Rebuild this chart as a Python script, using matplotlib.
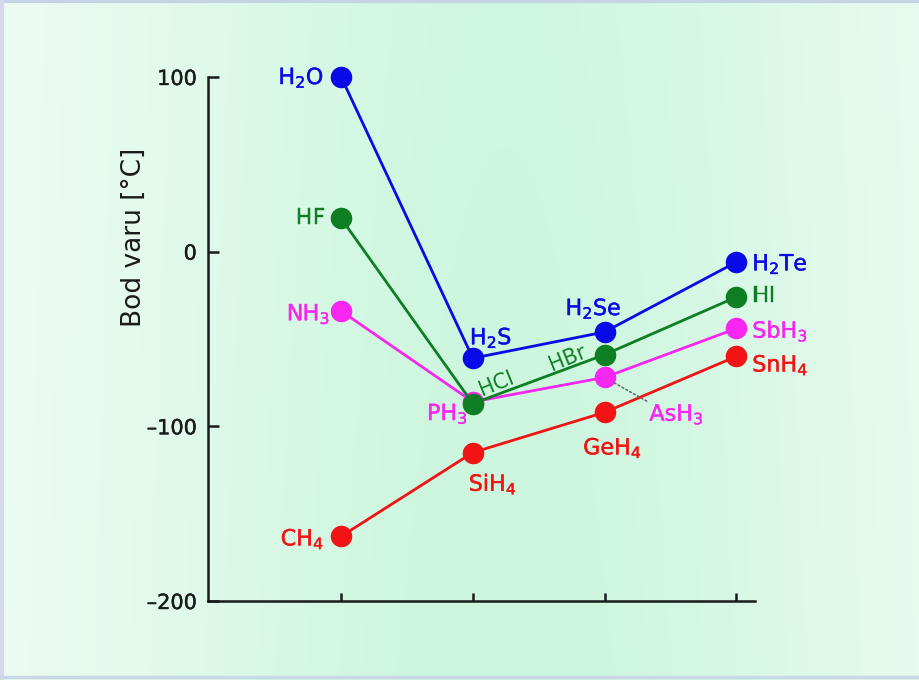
import numpy as np
import matplotlib.pyplot as plt
import matplotlib.patheffects as pe

plt.rcParams['font.family'] = 'DejaVu Sans'
plt.rcParams['mathtext.default'] = 'regular'

# periods 2..5 on the x axis (no tick labels in the original)
periods = [2, 3, 4, 5]

group14_names = [r'CH$_4$', r'SiH$_4$', r'GeH$_4$', r'SnH$_4$']
group14_bp = [-163, -115, -92, -60]

group15_names = [r'NH$_3$', r'PH$_3$', r'AsH$_3$', r'SbH$_3$']
group15_bp = [-34, -86, -72, -44]

group17_names = ['HF', 'HCl', 'HBr', 'HI']
group17_bp = [19, -87, -59, -26]

group16_names = [r'H$_2$O', r'H$_2$S', r'H$_2$Se', r'H$_2$Te']
group16_bp = [100, -61, -46, -6]

yticks = [100, 0, -100, -200]

red = '#f21414'
magenta = '#f726f0'
green = '#0d7f22'
blue = '#0a0ae6'

# label placement: offset of text (pixels, y up) from its point, and alignment
label_pos = {
    r'H$_2$O': (-17, -1, 'right'), 'HF': (-16, 0, 'right'),
    r'NH$_3$': (-11, -3, 'right'), r'CH$_4$': (-17, -3, 'right'),
    r'H$_2$S': (-3, 20, 'left'), r'PH$_3$': (-5, -12, 'right'),
    r'SiH$_4$': (20, -32, 'center'), r'H$_2$Se': (-11, 23, 'center'),
    r'GeH$_4$': (8, -36, 'center'),
    r'H$_2$Te': (16, -2, 'left'), 'HI': (16, 1, 'left'),
    r'SbH$_3$': (16, -3, 'left'), r'SnH$_4$': (16, -9, 'left'),
}

def heavy(col):
    return [pe.withStroke(linewidth=0.3, foreground=col)]

fig = plt.figure(figsize=(9.19, 6.8), dpi=100)

# background gradient
bg = fig.add_axes([0, 0, 1, 1], zorder=-10)
xx, yy = np.meshgrid(np.linspace(0, 1, 400), np.linspace(0, 1, 300))
w = np.exp(-((xx - 0.55) / 0.42) ** 2) * (0.9 + 0.1 * yy)
c_edge = np.array([0.95, 0.99, 0.965])
c_mid = np.array([0.80, 0.965, 0.87])
img = c_edge + (c_mid - c_edge) * w[..., None]
bg.imshow(img, aspect='auto', extent=[0, 1, 0, 1], origin='upper')
bg.plot([0, 1], [0.998, 0.998], color='#c4d4e4', lw=3)
bg.plot([0.002, 0.002], [0, 1], color='#d6d8f0', lw=3)
bg.plot([0, 1], [0.004, 0.004], color='#c8d8e4', lw=2.5)
bg.set_xlim(0, 1)
bg.set_ylim(0, 1)
bg.axis('off')

ax = fig.add_axes([0.2263, 0.1162, 0.5952, 0.7706])
ax.set_facecolor('none')

series = [
    (group14_names, group14_bp, red),
    (group15_names, group15_bp, magenta),
    (group17_names, group17_bp, green),
    (group16_names, group16_bp, blue),
]
for names, vals, col in series:
    ax.plot(periods, vals, color=col, lw=2, marker='o', ms=14.5, mec=col,
            mfc=col, zorder=3, clip_on=False)
    for x, y, n in zip(periods, vals, names):
        if n not in label_pos:
            continue
        dx, dy, ha = label_pos[n]
        ax.annotate(n, (x, y), xytext=(dx * 0.72, dy * 0.72),
                    textcoords='offset points', ha=ha, va='center',
                    color=col, fontsize=16, path_effects=heavy(col))

# rotated labels along the group 17 line
ax.annotate('HCl', (periods[1], group17_bp[1]), xytext=(24 * 0.72, 20 * 0.72),
            textcoords='offset points', ha='center', va='center',
            rotation=22, rotation_mode='anchor', color=green, fontsize=15)
ax.annotate('HBr', (periods[2], group17_bp[2]), xytext=(-37 * 0.72, -4 * 0.72),
            textcoords='offset points', ha='center', va='center',
            rotation=22, rotation_mode='anchor', color=green, fontsize=15)

# AsH3 with dotted leader
ax.annotate(group15_names[2], (periods[2], group15_bp[2]),
            xytext=(72 * 0.72, -37 * 0.72), textcoords='offset points',
            ha='center', va='center', color=magenta, fontsize=16,
            path_effects=heavy(magenta),
            arrowprops=dict(arrowstyle='-', ls=':', color='#607070', lw=1.2,
                            relpos=(0.0, 1.0), shrinkA=0, shrinkB=8))

ax.set_xlim(0.989, 5.142)
ax.set_ylim(-200, 100)
ax.set_xticks(periods)
ax.set_xticklabels([])
ax.set_yticks(yticks)
ax.set_yticklabels([str(t).replace('-', '\u2013') for t in yticks], fontsize=15)
for lab in ax.get_yticklabels():
    lab.set_path_effects(heavy('#1a1a1a'))
ax.tick_params(axis='y', direction='in', length=8, width=1.8, pad=8,
               colors='#1a1a1a')
ax.tick_params(axis='x', direction='in', length=6, width=1.8, colors='#1a1a1a')
for s in ['top', 'right']:
    ax.spines[s].set_visible(False)
for s in ['left', 'bottom']:
    ax.spines[s].set_linewidth(1.8)
    ax.spines[s].set_color('#1a1a1a')

ax.set_ylabel('Bod varu [°C]', fontsize=19, color='#1a1a1a')
ax.yaxis.set_label_coords(-0.112, 0.693)

fig.savefig('out.png', dpi=100)
